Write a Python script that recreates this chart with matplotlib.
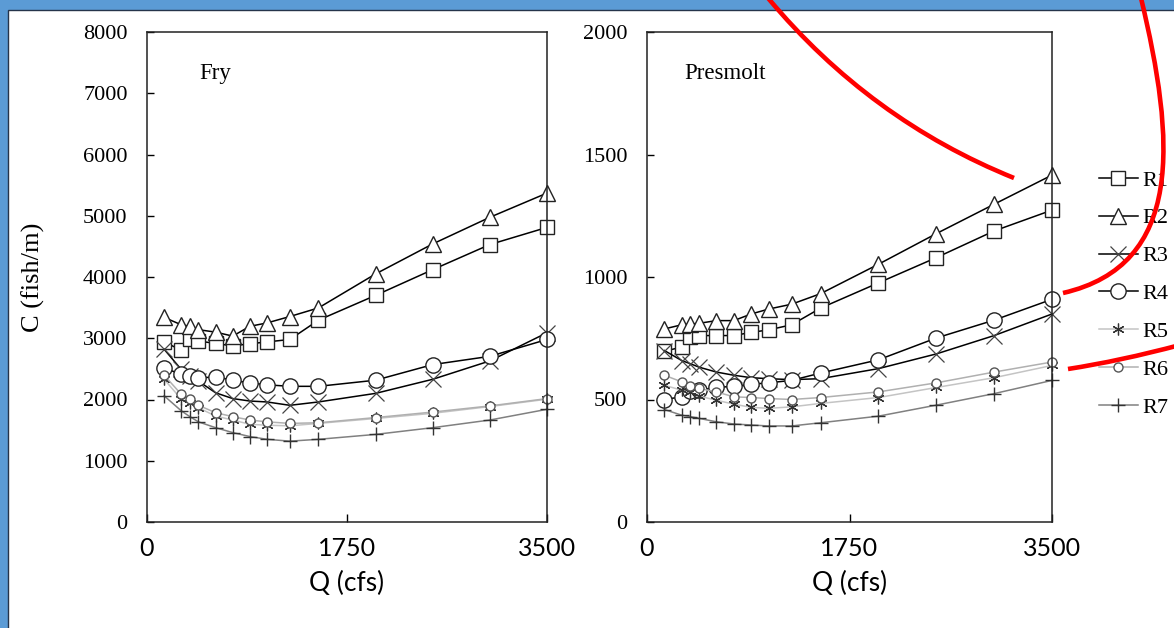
"""Fry and presmolt capacity C vs discharge Q for reaches R1-R7 -> out.png."""
import matplotlib
matplotlib.use("Agg")
import matplotlib.pyplot as plt
from matplotlib.patches import PathPatch, Rectangle
from matplotlib.path import Path

# discharge (cfs)
Q = [150, 300, 375, 450, 600, 750, 900, 1050, 1250, 1500, 2000, 2500, 3000, 3500]

# Fry capacity (fish/m)
FRY_R1 = [2940, 2805, 2990, 2955, 2915, 2875, 2910, 2940, 2980, 3295, 3700, 4120, 4530, 4810]
FRY_R2 = [3340, 3220, 3195, 3140, 3100, 3035, 3195, 3250, 3355, 3495, 4050, 4540, 4975, 5370]
FRY_R3 = [2820, 2490, 2385, 2300, 2110, 2015, 1975, 1960, 1905, 1960, 2100, 2330, 2630, 3090]
FRY_R4 = [2515, 2410, 2390, 2350, 2370, 2315, 2270, 2240, 2215, 2215, 2315, 2570, 2705, 2980]
FRY_R5 = [2330, 2005, 1950, 1865, 1730, 1665, 1595, 1580, 1570, 1610, 1690, 1775, 1885, 2005]
FRY_R6 = [2395, 2085, 2015, 1905, 1785, 1720, 1665, 1635, 1610, 1620, 1705, 1795, 1895, 2015]
FRY_R7 = [2060, 1815, 1720, 1635, 1540, 1460, 1395, 1350, 1320, 1350, 1430, 1540, 1665, 1840]

# Presmolt capacity (fish/m)
PRE_R1 = [697, 714, 757, 761, 761, 761, 774, 784, 805, 873, 976, 1079, 1188, 1273]
PRE_R2 = [788, 805, 808, 811, 822, 822, 849, 869, 889, 932, 1052, 1177, 1297, 1416]
PRE_R3 = [700, 659, 646, 632, 612, 599, 589, 585, 581, 585, 626, 686, 761, 849]
PRE_R4 = [500, 511, 535, 538, 549, 554, 562, 568, 578, 608, 662, 751, 824, 909]
PRE_R5 = [558, 538, 531, 514, 497, 481, 468, 464, 470, 484, 508, 549, 589, 639]
PRE_R6 = [599, 572, 554, 545, 531, 511, 508, 504, 500, 508, 531, 568, 612, 653]
PRE_R7 = [459, 436, 430, 423, 409, 400, 396, 392, 392, 405, 432, 477, 524, 578]

LABELS = ["R1", "R2", "R3", "R4", "R5", "R6", "R7"]

W, H = 1174, 628
plt.rcParams["font.family"] = ["Liberation Serif", "DejaVu Serif"]

STYLES = [
    dict(color="black", marker="s", ms=10, mfc="white", mec="#222222"),
    dict(color="black", marker="^", ms=11, mfc="white", mec="#222222"),
    dict(color="black", marker="x", ms=11, mec="#444444", mew=0.9),
    dict(color="black", marker="o", ms=11, mfc="white", mec="#222222"),
    dict(color="#c4c4c4", marker=(6, 2, 0), ms=8.5, mec="#333333", mew=0.9),
    dict(color="#b0b0b0", marker="o", ms=6.5, mfc="white", mec="#555555"),
    dict(color="#808080", marker="+", ms=9.5, mec="#333333", mew=1.0),
]


def fx(x):
    return x / W


def fy(y):
    return 1 - y / H


def draw_panel(ax, series, ymax, ystep, name, name_x):
    for vals, st, lab in zip(series, STYLES, LABELS):
        ax.plot(Q, vals, lw=1.1, clip_on=False, label=lab, **st)
    ax.set_xlim(0, 3500)
    ax.set_ylim(0, ymax)
    ax.set_xticks([0, 1750, 3500])
    ax.set_yticks(range(0, ymax + 1, ystep))
    ax.tick_params(axis="x", direction="in", length=6, width=1, pad=11,
                   labelsize=18, labelfontfamily="Lato")
    ax.tick_params(axis="y", direction="in", length=5, width=1, pad=14,
                   labelsize=16)
    for sp in ax.spines.values():
        sp.set_linewidth(1.1)
        sp.set_color("#222222")
    ax.set_xlabel("Q (cfs)", family="Lato", fontsize=19, labelpad=8)
    ax.text(name_x, 0.916, name, transform=ax.transAxes, fontsize=16.5,
            va="center", ha="left")


fig = plt.figure(figsize=(W / 100, H / 100), dpi=100)
fig.patch.set_facecolor("#5b9bd5")
fig.add_artist(Rectangle((fx(8), -0.02), 1.05, fy(10) + 0.02,
                         transform=fig.transFigure, fc="white",
                         ec="#25344a", lw=1.0, zorder=-5))

ax1 = fig.add_axes([fx(147), fy(522), 400 / W, 490 / H])
ax2 = fig.add_axes([fx(647), fy(522), 405 / W, 490 / H])

draw_panel(ax1, [FRY_R1, FRY_R2, FRY_R3, FRY_R4, FRY_R5, FRY_R6, FRY_R7],
           8000, 1000, "Fry", 0.13)
draw_panel(ax2, [PRE_R1, PRE_R2, PRE_R3, PRE_R4, PRE_R5, PRE_R6, PRE_R7],
           2000, 500, "Presmolt", 0.092)
ax1.set_ylabel("C (fish/m)", fontsize=19)
ax1.yaxis.set_label_coords(-0.255, 0.5)

handles, labels = ax2.get_legend_handles_labels()
fig.legend(handles, labels, loc="upper left",
           bbox_to_anchor=(fx(1099), fy(170)), frameon=False,
           handlelength=1.75, handletextpad=0.2, labelspacing=0.78,
           borderpad=0, borderaxespad=0, fontsize=16, numpoints=1)

# cut-off slide title above the chart
fig.text(fx(808), fy(-5), "g", family="Lato", fontsize=20, va="baseline")

# red hand-drawn arrows
red = dict(fill=False, ec="red", lw=3.3, zorder=20, capstyle="butt")
curves = [
    ([(768, -2), (870, 120), (1014, 178)],
     [Path.MOVETO, Path.CURVE3, Path.CURVE3]),
    ([(1141, -2), (1175, 140), (1185, 265), (1063, 293)],
     [Path.MOVETO, Path.CURVE4, Path.CURVE4, Path.CURVE4]),
    ([(1068, 369), (1120, 361), (1180, 345)],
     [Path.MOVETO, Path.CURVE3, Path.CURVE3]),
]
for pts, codes in curves:
    path = Path([(fx(x), fy(y)) for x, y in pts], codes)
    fig.add_artist(PathPatch(path, transform=fig.transFigure, **red))

fig.savefig("out.png", dpi=100)
